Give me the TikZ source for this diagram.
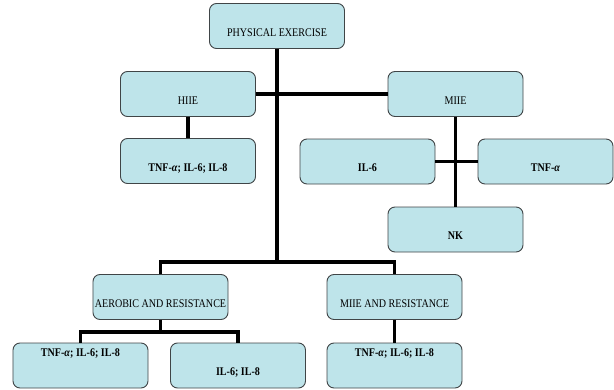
\documentclass[tikz,border=0pt]{standalone}
\usepackage{fontspec}
\setmainfont{Liberation Serif}[FakeStretch=0.86]
\usepackage{tikz}
\usetikzlibrary{positioning}
\definecolor{mcyan}{rgb}{0.745, 0.894, 0.918}
\definecolor{mgrey}{rgb}{0.25, 0.27, 0.28}
\tikzset{box/.style = {draw=mgrey, line width=0.8pt, fill=mcyan, rounded corners=6pt,
    minimum width=4.05cm, minimum height=1.35cm, inner sep=0,
    font=\fontsize{10}{12}\selectfont, text height=0.66cm, text depth=0.06cm},
  topbox/.style = {box, text height=0.25cm, text depth=0.78cm},
  link/.style = {line width=3.2pt}}
\begin{document}
\begin{tikzpicture}[x=0.03cm, y=-0.03cm]
      \useasboundingbox (0, 0) rectangle (614, 389);
      \node [box] (pe) at (277, 26) {PHYSICAL EXERCISE};
      \node [box] (hiie) at (188, 94) {HIIE};
      \node [box] (miie) at (455.5, 94) {MIIE};
      \node [box, font=\fontsize{10}{12}\selectfont\bfseries] (hiiec) at (188, 161) {TNF-\textit{α}; IL-6; IL-8};
      \node [box, font=\fontsize{10}{12}\selectfont\bfseries] (il6) at (367.5, 161.5) {IL-6};
      \node [box, font=\fontsize{10}{12}\selectfont\bfseries] (tnf) at (545.5, 161.5) {TNF-\textit{α}};
      \node [box, font=\fontsize{10}{12}\selectfont\bfseries] (nk) at (455.5, 229.5) {NK};
      \node [box] (aer) at (160.5, 297) {AEROBIC AND RESISTANCE};
      \node [box] (mres) at (394.5, 297) {MIIE AND RESISTANCE};
      \node [topbox, font=\fontsize{10}{12}\selectfont\bfseries] (aerc1) at (80.5, 365.5) {TNF-\textit{α}; IL-6; IL-8};
      \node [box, font=\fontsize{10}{12}\selectfont\bfseries] (aerc2) at (238, 365.5) {IL-6; IL-8};
      \node [topbox, font=\fontsize{10}{12}\selectfont\bfseries] (mresc) at (394.5, 365.5) {TNF-\textit{α}; IL-6; IL-8};
      \coordinate (trunk) at (277, 262);
      \coordinate (split) at (160.5, 332);
      \draw [link] (pe.south) -- (trunk);
      \draw [link] (hiie.east) -- (miie.west);
      \draw [link] (hiie.south) -- (hiiec.north);
      \draw [link] (miie.south) -- (nk.north);
      \draw [link] (il6.east) -- (tnf.west);
      \draw [link] (aer.north) |- (trunk) -| (mres.north);
      \draw [link] (aer.south) -- (split);
      \draw [link] (aerc1.north) |- (split) -| (aerc2.north);
      \draw [link] (mres.south) -- (mresc.north);
    \end{tikzpicture}
\end{document}
